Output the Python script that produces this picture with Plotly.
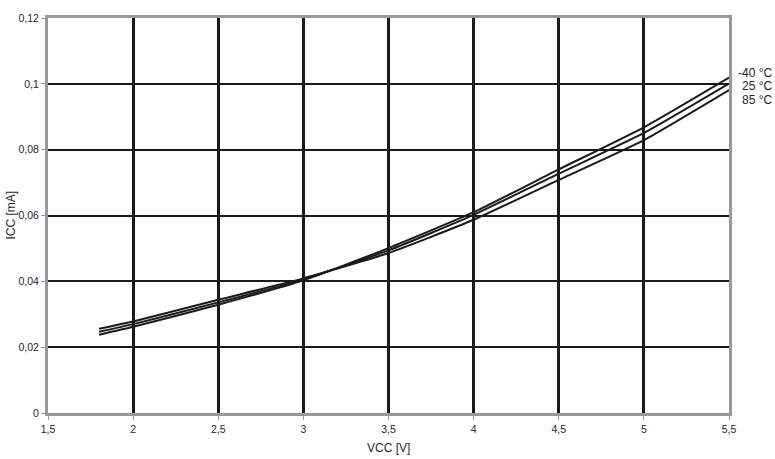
import plotly.graph_objects as go

vcc = [1.8, 2.0, 2.5, 3.0, 3.5, 4.0, 4.5, 5.0, 5.5]
icc_m40 = [0.0238, 0.0262, 0.0329, 0.0403, 0.0501, 0.0610, 0.0740, 0.0868, 0.1019]
icc_25 = [0.0247, 0.0270, 0.0336, 0.0406, 0.0494, 0.0602, 0.0727, 0.0851, 0.1001]
icc_85 = [0.0256, 0.0278, 0.0344, 0.0409, 0.0486, 0.0587, 0.0708, 0.0829, 0.0981]
series_names = ["-40 °C", "25 °C", "85 °C"]

x_ticks = [1.5, 2, 2.5, 3, 3.5, 4, 4.5, 5, 5.5]
x_ticktext = ["1,5", "2", "2,5", "3", "3,5", "4", "4,5", "5", "5,5"]
y_ticks = [0, 0.02, 0.04, 0.06, 0.08, 0.1, 0.12]
y_ticktext = ["0", "0,02", "0,04", "0,06", "0,08", "0,1", "0,12"]
y_major_grid = [0.04, 0.08]

FONT = "Liberation Sans, Arial, sans-serif"
TXT = "#1f1f2a"

fig = go.Figure()
for name, ys in zip(series_names, [icc_m40, icc_25, icc_85]):
    fig.add_trace(go.Scatter(x=vcc, y=ys, mode="lines", name=name,
                             line=dict(color="#1a1a1a", width=2, shape="spline", smoothing=0.5),
                             showlegend=False))

fig.update_layout(
    width=775, height=459,
    margin=dict(l=48, r=46, t=15, b=46),
    paper_bgcolor="white", plot_bgcolor="white",
    font=dict(family=FONT, color=TXT, size=11),
    xaxis=dict(range=[1.5, 5.5], tickmode="array", tickvals=x_ticks, ticktext=x_ticktext,
               showgrid=True, gridcolor="#1a1a1a", gridwidth=3,
               showline=True, linecolor="#999999", linewidth=3, mirror=True,
               ticks="outside", ticklen=4, tickcolor="#999999", tickwidth=1,
               tickfont=dict(size=10.5, color=TXT), zeroline=False),
    yaxis=dict(range=[0, 0.12], tickmode="array", tickvals=y_ticks, ticktext=y_ticktext,
               showgrid=True, gridcolor="#1a1a1a", gridwidth=2,
               showline=True, linecolor="#999999", linewidth=3, mirror=True,
               ticks="outside", ticklen=4, tickcolor="#999999", tickwidth=1,
               tickfont=dict(size=10.5, color=TXT), zeroline=False),
    yaxis2=dict(range=[0, 0.12], overlaying="y", tickmode="array", tickvals=y_major_grid,
                showgrid=True, gridcolor="#1a1a1a", gridwidth=3,
                showticklabels=False, ticks="", zeroline=False, showline=False),
)

annotations = [
    dict(text="VCC [V]", xref="paper", yref="paper", x=0.5, y=0, yshift=-35,
         showarrow=False, font=dict(size=12, color=TXT), xanchor="center", yanchor="middle"),
    dict(text="ICC [mA]", xref="paper", yref="paper", x=0, y=0.5, xshift=-38,
         showarrow=False, font=dict(size=12, color=TXT), textangle=-90,
         xanchor="center", yanchor="middle"),
]
label_y = [0.1034, 0.0992, 0.0950]
for name, ly in zip(series_names, label_y):
    annotations.append(dict(text=name, xref="paper", yref="y", x=1, y=ly, xshift=45,
                            showarrow=False, font=dict(size=12, color=TXT),
                            xanchor="right", yanchor="middle"))
fig.update_layout(annotations=annotations)

fig.write_html("out.html", config={"displayModeBar": False},
               post_script="document.body.style.margin='0';document.body.style.overflow='hidden';")
